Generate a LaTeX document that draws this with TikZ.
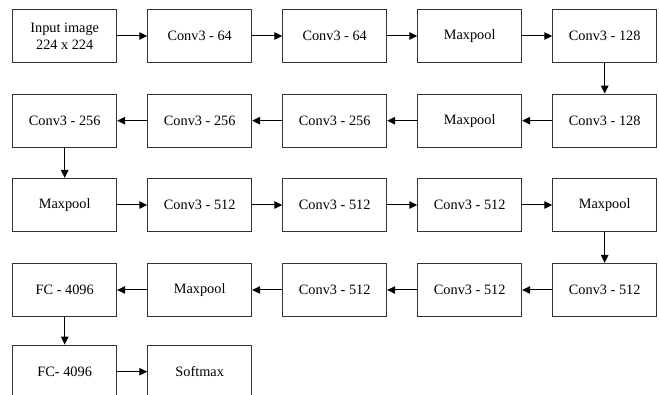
\documentclass[tikz,border=0pt]{standalone}
\usepackage{fontspec}
\setmainfont{Liberation Serif}
\usetikzlibrary{arrows.meta}
\begin{document}
\begin{tikzpicture}[x=1pt,y=1pt,
  blk/.style={draw=black!80,line width=0.9pt,minimum width=104pt,minimum height=53.3pt,inner sep=0pt,align=center,font=\fontsize{14.3pt}{16.6pt}\selectfont},
  arr/.style={line width=1pt,-{Triangle[length=8pt,width=7.5pt]}}]
\useasboundingbox (0,0) rectangle (659,-395);
\clip (0,0) rectangle (659,-395);
% rows
\def\ra{-36}\def\rb{-120.7}\def\rc{-205}\def\rd{-290}\def\re{-371.7}
\node[blk] (a1) at (64.7,\ra) {Input image\\224 x 224};
\node[blk] (a2) at (199.7,\ra) {Conv3 - 64};
\node[blk] (a3) at (334.7,\ra) {Conv3 - 64};
\node[blk] (a4) at (469.7,\ra) {Maxpool};
\node[blk] (a5) at (604.7,\ra) {Conv3 - 128};
\node[blk] (b1) at (64.7,\rb) {Conv3 - 256};
\node[blk] (b2) at (199.7,\rb) {Conv3 - 256};
\node[blk] (b3) at (334.7,\rb) {Conv3 - 256};
\node[blk] (b4) at (469.7,\rb) {Maxpool};
\node[blk] (b5) at (604.7,\rb) {Conv3 - 128};
\node[blk] (c1) at (64.7,\rc) {Maxpool};
\node[blk] (c2) at (199.7,\rc) {Conv3 - 512};
\node[blk] (c3) at (334.7,\rc) {Conv3 - 512};
\node[blk] (c4) at (469.7,\rc) {Conv3 - 512};
\node[blk] (c5) at (604.7,\rc) {Maxpool};
\node[blk] (d1) at (64.7,\rd) {FC - 4096};
\node[blk] (d2) at (199.7,\rd) {Maxpool};
\node[blk] (d3) at (334.7,\rd) {Conv3 - 512};
\node[blk] (d4) at (469.7,\rd) {Conv3 - 512};
\node[blk] (d5) at (604.7,\rd) {Conv3 - 512};
\node[blk] (e1) at (64.7,\re) {FC- 4096};
\node[blk] (e2) at (199.7,\re) {Softmax};
% arrows
\draw[arr] (a1) -- (a2);
\draw[arr] (a2) -- (a3);
\draw[arr] (a3) -- (a4);
\draw[arr] (a4) -- (a5);
\draw[arr] (a5) -- (b5);
\draw[arr] (b5) -- (b4);
\draw[arr] (b4) -- (b3);
\draw[arr] (b3) -- (b2);
\draw[arr] (b2) -- (b1);
\draw[arr] (b1) -- (c1);
\draw[arr] (c1) -- (c2);
\draw[arr] (c2) -- (c3);
\draw[arr] (c3) -- (c4);
\draw[arr] (c4) -- (c5);
\draw[arr] (c5) -- (d5);
\draw[arr] (d5) -- (d4);
\draw[arr] (d4) -- (d3);
\draw[arr] (d3) -- (d2);
\draw[arr] (d2) -- (d1);
\draw[arr] (d1) -- (e1);
\draw[arr] (e1) -- (e2);
\end{tikzpicture}
\end{document}
